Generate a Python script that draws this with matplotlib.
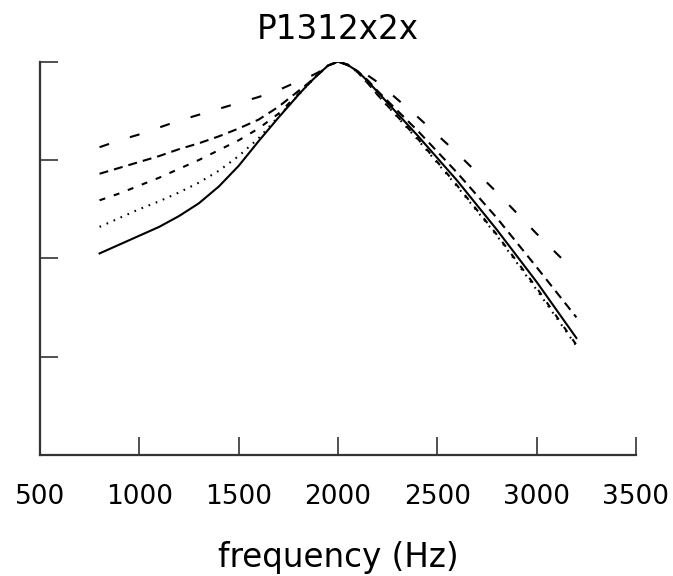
import matplotlib
matplotlib.use('Agg')
import matplotlib.pyplot as plt

# frequencies (Hz) at which the curves were read
freq = [800, 900, 1000, 1100, 1200, 1300, 1400, 1500, 1600, 1700, 1800, 1850,
        1900, 1950, 2000, 2050, 2100, 2150, 2200, 2400, 2600, 2800, 3000, 3200]

# responses (dB re peak)
solid = [-19.5, -18.6, -17.7, -16.8, -15.7, -14.4, -12.7, -10.6, -8.1, -5.7, -3.4, -2.3,
         -1.3, -0.4, 0.0, -0.35, -1.0, -2.0, -3.1, -7.5, -12.1, -17.1, -22.4, -28.1]
dotted = [-16.8, -15.9, -15.0, -14.2, -13.3, -12.3, -11.1, -9.6, -7.8, -5.6, -3.4, -2.3,
          -1.3, -0.4, 0.0, -0.35, -1.1, -2.2, -3.4, -7.9, -12.7, -17.7, -23.2, -28.9]
short_dash = [-14.1, -13.4, -12.6, -11.8, -10.9, -10.0, -9.0, -8.0, -6.8, -5.3, -3.3, -2.3,
              -1.3, -0.4, 0.0, -0.35, -1.1, -2.2, -3.4, -7.8, -12.6, -17.6, -23.0, -28.8]
med_dash = [-11.4, -10.8, -10.2, -9.6, -8.9, -8.3, -7.6, -6.8, -5.9, -4.6, -3.0, -2.2,
            -1.3, -0.4, 0.0, -0.35, -1.0, -1.9, -3.0, -7.0, -11.3, -15.9, -20.9, -26.0]
long_dash = [-8.7, -8.0, -7.4, -6.7, -6.0, -5.4, -4.8, -4.2, -3.6, -2.9, -2.0, -1.6,
             -1.1, -0.4, 0.0, -0.3, -0.8, -1.4, -2.1, -5.6, -9.3, -13.3, -17.5, -21.5]

plt.rcParams['lines.scale_dashes'] = False

fig = plt.figure(figsize=(6.73, 5.76), dpi=100)
ax = fig.add_axes([0.0594, 0.210, 0.8856, 0.683])

lw = 1.5
ax.plot(freq, solid, color='black', lw=lw)
ax.plot(freq, dotted, color='black', lw=lw, dashes=(1.2, 4.3))
ax.plot(freq, short_dash, color='black', lw=lw, dashes=(4.3, 6.5))
ax.plot(freq, med_dash, color='black', lw=lw, dashes=(6.5, 4.3))
ax.plot(freq, long_dash, color='black', lw=lw, dashes=(7.2, 15.8))

ax.set_xlim(500, 3500)
ax.set_ylim(-40, 0)
ax.set_xticks([500, 1000, 1500, 2000, 2500, 3000, 3500])
ax.set_yticks([-40, -30, -20, -10, 0])
ax.set_yticklabels([])

for side in ['top', 'right']:
    ax.spines[side].set_visible(False)
for side in ['left', 'bottom']:
    ax.spines[side].set_linewidth(1.6)
    ax.spines[side].set_color('#333333')

ax.tick_params(axis='both', direction='in', length=13, width=1.2, color='#333333')
ax.tick_params(axis='x', labelsize=19, pad=21)

ax.set_title('P1312x2x', fontsize=23.5, pad=16)
ax.set_xlabel('frequency (Hz)', fontsize=23.5, labelpad=22)

fig.savefig('out.png', dpi=100)
